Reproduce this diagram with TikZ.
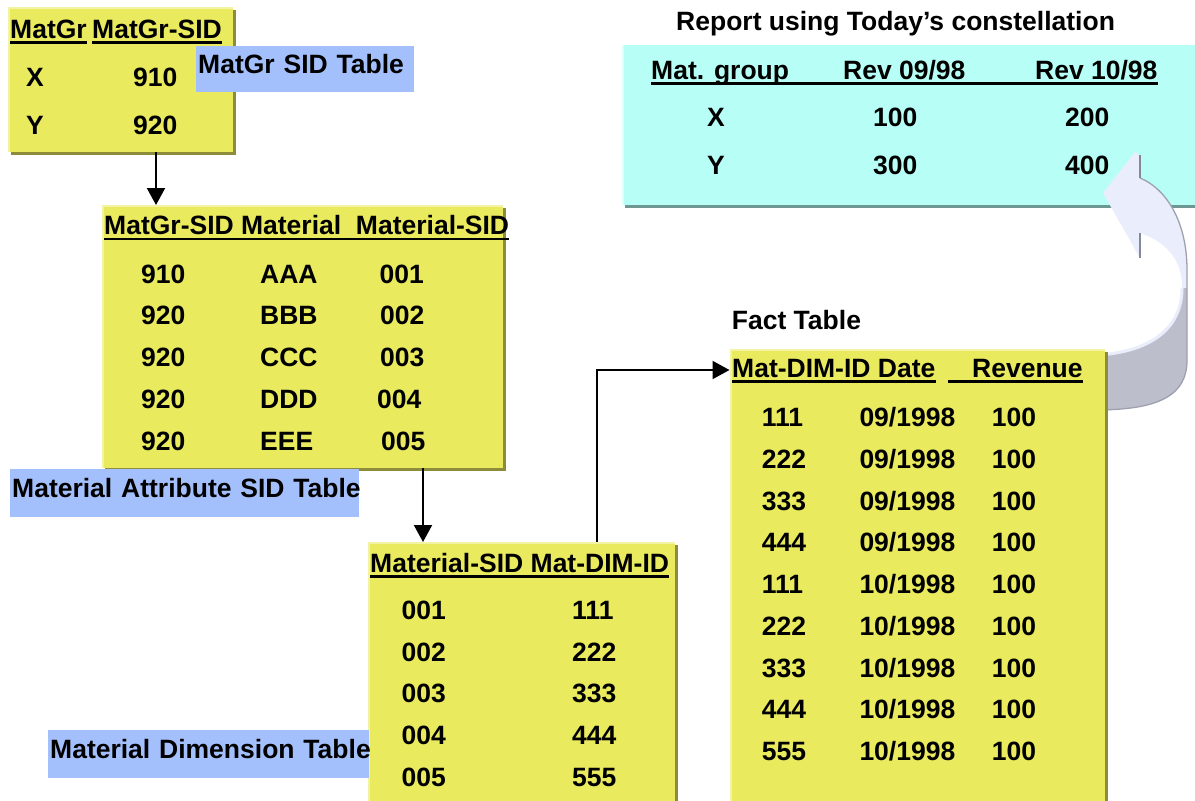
\documentclass[tikz,border=0pt]{standalone}
\usepackage{fontspec}
\setmainfont{Liberation Sans}
\usetikzlibrary{arrows.meta,shadows}
\definecolor{boxyellow}{HTML}{EAEA5E}
\definecolor{boxhl}{HTML}{F3F3A6}
\definecolor{boxshade}{HTML}{8C8C3A}
\definecolor{repcyan}{HTML}{B7FFF6}
\definecolor{repshade}{HTML}{6E9692}
\definecolor{replight}{HTML}{DDFFFB}
\definecolor{tagblue}{HTML}{A4C0FC}
\definecolor{bandlight}{HTML}{E9EDFC}
\definecolor{banddark}{HTML}{BCBFCB}
\definecolor{bandedge}{HTML}{9EA1AD}
\definecolor{bandside}{HTML}{85889A}

% outline of the curved "refresh" arrow
\def\bandpath{(1135,152) -- (1103,193) -- (1140,258) -- (1140,233)
  .. controls (1165,241) and (1182,260) .. (1182,285)
  .. controls (1182,320) and (1160,350) .. (1095,355)
  -- (1095,410)
  .. controls (1160,410) and (1187,395) .. (1187,360)
  -- (1187,270) .. controls (1187,220) and (1165,188) .. (1140,178)
  -- (1140,155) -- cycle}

\begin{document}
\begin{tikzpicture}[x=1pt,y=-1pt,
  font=\bfseries\fontsize{26.5}{30}\selectfont,
  tbl/.style={rectangle, anchor=north west, inner sep=0pt, fill=boxyellow,
    drop shadow={shadow xshift=3pt, shadow yshift=-3pt, fill=boxshade, opacity=1}},
  rep/.style={rectangle, anchor=north west, inner sep=0pt, fill=repcyan,
    drop shadow={shadow xshift=3pt, shadow yshift=-3pt, fill=repshade, opacity=1}},
  hl/.style={line width=2pt, boxhl},
  cell/.style={anchor=base west, inner sep=0pt},
  tag/.style={anchor=north west, fill=tagblue, inner xsep=2pt, inner ysep=0pt,
    text height=19pt, text depth=10pt, align=left},
  uline/.style={line width=2.2pt},
  conn/.style={line width=2pt, -{Triangle[length=17pt,width=18pt]}},
]
\useasboundingbox (0,0) rectangle (1195,801);

% ---------- report ----------
\node[cell] (title) at (676,30.5) {Report using Today’s constellation};
\node[rep, minimum width=580pt, minimum height=160pt] (report) at (622,45) {};
\draw[line width=2pt, replight] ([xshift=1pt]report.south west) -- ([xshift=1pt]report.north west);
\node[cell] (rh1) at (651,79.5) {Mat. group};
\node[cell] (rh2) at (843,79.5) {Rev 09/98};
\node[cell] (rh3) at (1035,79.5) {Rev 10/98};
\draw[uline] ([yshift=-4pt]rh1.base west) -- ([yshift=-4pt]rh3.base east);
\foreach \g/\a/\b [count=\i] in {X/100/200, Y/300/400} {
  \node[cell] (rg\i) at (707,126.5+48*\i-48) {\g};
  \node[cell] (ra\i) at (873,126.5+48*\i-48) {\a};
  \node[cell] (rb\i) at (1065,126.5+48*\i-48) {\b};
}

% ---------- curved arrow ----------
\fill[bandlight] \bandpath;
\begin{scope}
  \clip \bandpath;
  \fill[banddark] (1080,288) rectangle (1200,420);
\end{scope}
\draw[bandlight, line width=3pt] (1182,288) .. controls (1182,322) and (1160,350) .. (1100,355);
\draw[bandedge, line width=1.3pt] (1140,178) .. controls (1165,188) and (1187,220) .. (1187,270)
  -- (1187,360) .. controls (1187,395) and (1160,410) .. (1095,410);
\draw[bandside, line width=2pt] (1140,155) -- (1140,178) (1140,233) -- (1140,258);

% ---------- MatGr SID table ----------
\node[tbl, minimum width=225pt, minimum height=145pt] (matgr) at (8,7) {};
\draw[hl] ([xshift=1pt]matgr.south west) -- ([shift={(1pt,-1pt)}]matgr.north west) -- ([yshift=-1pt]matgr.north east);
\node[cell] (t1h1) at (10,38) {MatGr};
\node[cell] (t1h2) at (92,38) {MatGr-SID};
\draw[uline] ([yshift=-4.5pt]t1h1.base west) -- ([yshift=-4.5pt]t1h1.base east);
\draw[uline] ([yshift=-4.5pt]t1h2.base west) -- ([yshift=-4.5pt]t1h2.base east);
\node[cell] (t1a1) at (26,86.8) {X};
\node[cell] (t1b1) at (133,86.8) {910};
\node[cell] (t1a2) at (26,134.5) {Y};
\node[cell] (t1b2) at (133,134.5) {920};
\node[tag, text width=214pt, minimum height=46pt] (tag1) at (196,46) {\mbox{MatGr SID Table}};

% ---------- Material attribute SID table ----------
\node[tbl, minimum width=401pt, minimum height=263pt] (attr) at (102,205) {};
\draw[hl] ([xshift=1pt]attr.south west) -- ([shift={(1pt,-1pt)}]attr.north west) -- ([yshift=-1pt]attr.north east);
\node[cell] (t2h) at (104,234.5) {MatGr-SID Material\ \ Material-SID};
\draw[uline] ([yshift=-4.5pt]t2h.base west) -- ([yshift=-4.5pt]t2h.base east);
\foreach \s/\m/\n/\nx [count=\i] in {910/AAA/001/379.5, 920/BBB/002/380, 920/CCC/003/380, 920/DDD/004/377, 920/EEE/005/381} {
  \node[cell] (t2a\i) at (141,283+41.9*\i-41.9) {\s};
  \node[cell] (t2b\i) at (260,283+41.9*\i-41.9) {\m};
  \node[cell] (t2c\i) at (\nx,283+41.9*\i-41.9) {\n};
}
\node[tag, text width=345pt, minimum height=48pt] (tag2) at (10,469) {\mbox{Material Attribute SID Table}};

% ---------- Material dimension table ----------
\node[tbl, minimum width=307pt, minimum height=270pt] (dim) at (368,542) {};
\draw[hl] ([xshift=1pt]dim.south west) -- ([shift={(1pt,-1pt)}]dim.north west) -- ([yshift=-1pt]dim.north east);
\node[cell] (t3h) at (370,572) {Material-SID Mat-DIM-ID};
\draw[uline] ([yshift=-4.5pt]t3h.base west) -- ([yshift=-4.5pt]t3h.base east);
\foreach \s/\d [count=\i] in {001/111, 002/222, 003/333, 004/444, 005/555} {
  \node[cell] (t3a\i) at (401.5,619.5+41.7*\i-41.7) {\s};
  \node[cell] (t3b\i) at (572,619.5+41.7*\i-41.7) {\d};
}
\node[tag, text width=317pt, minimum height=48pt] (tag3) at (48,730) {\mbox{Material Dimension Table}};

% ---------- Fact table ----------
\node[cell] (facttitle) at (731.7,329.5) {Fact Table};
\node[tbl, minimum width=375.5pt, minimum height=460pt] (fact) at (729.5,349) {};
\draw[hl] ([xshift=1pt]fact.south west) -- ([shift={(1pt,-1pt)}]fact.north west) -- ([yshift=-1pt]fact.north east);
\node[cell] (fh1) at (732,377) {Mat-DIM-ID Date};
\node[cell] (fh2) at (972,377) {Revenue};
\draw[uline] ([yshift=-4.5pt]fh1.base west) -- ([yshift=-4.5pt]fh1.base east);
\draw[uline] ([shift={(-24pt,-4.5pt)}]fh2.base west) -- ([yshift=-4.5pt]fh2.base east);
\foreach \k/\m [count=\i] in {111/09, 222/09, 333/09, 444/09, 111/10, 222/10, 333/10, 444/10, 555/10} {
  \node[cell] (fa\i) at (761.7,426.8+41.7*\i-41.7) {\k};
  \node[cell] (fb\i) at (859.3,426.8+41.7*\i-41.7) {\m/1998};
  \node[cell] (fc\i) at (991.7,426.8+41.7*\i-41.7) {100};
}

% ---------- connectors ----------
\draw[conn] (156,0 |- matgr.south) -- (156,0 |- attr.north);
\draw[conn] (423,0 |- attr.south) -- (423,0 |- dim.north);
\draw[conn] (597,0 |- dim.north) |- (fact.west |- 0,370);
\end{tikzpicture}
\end{document}
